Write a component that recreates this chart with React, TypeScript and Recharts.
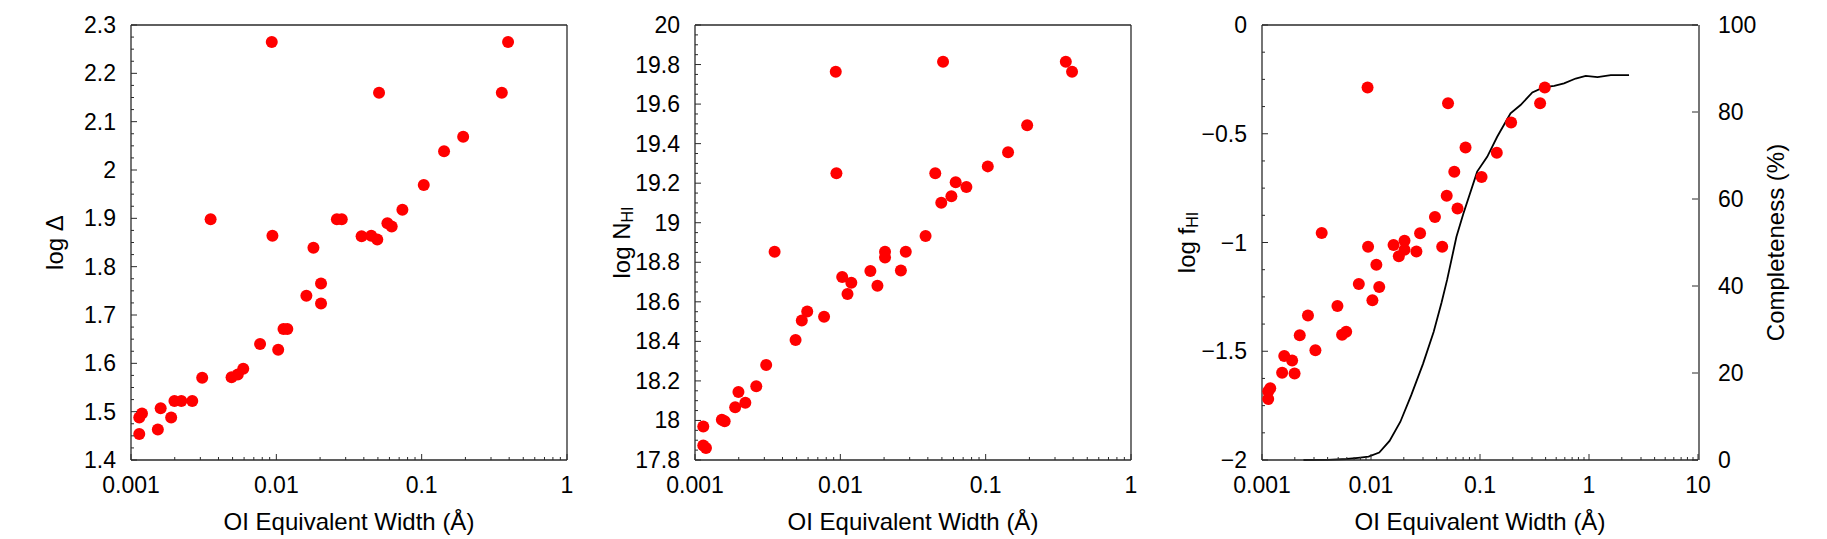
import React from 'react';
import { ComposedChart, Scatter, Line, XAxis, YAxis } from 'recharts';

// ---------- data ----------
const ew = [0.00114, 0.00114, 0.00119, 0.00153, 0.0016, 0.00189, 0.00199, 0.00222, 0.00264, 0.00309, 0.00353, 0.00492, 0.00543, 0.00592, 0.00773, 0.0093, 0.0094, 0.0103, 0.0112, 0.0119, 0.0161, 0.018, 0.0203, 0.0203, 0.0261, 0.0282, 0.0386, 0.045, 0.0495, 0.0509, 0.0581, 0.0622, 0.0737, 0.1034, 0.1426, 0.193, 0.356, 0.393];
const logDelta = [1.488, 1.454, 1.496, 1.463, 1.507, 1.488, 1.522, 1.522, 1.522, 1.57, 1.898, 1.571, 1.577, 1.589, 1.64, 2.265, 1.864, 1.628, 1.671, 1.671, 1.74, 1.839, 1.765, 1.724, 1.898, 1.898, 1.863, 1.864, 1.856, 2.16, 1.89, 1.883, 1.918, 1.969, 2.039, 2.069, 2.16, 2.265];
const logNHI = [17.97, 17.873, 17.861, 18.004, 17.996, 18.067, 18.144, 18.09, 18.173, 18.281, 18.853, 18.407, 18.506, 18.551, 18.525, 19.764, 19.25, 18.725, 18.64, 18.697, 18.756, 18.681, 18.853, 18.824, 18.758, 18.853, 18.933, 19.25, 19.101, 19.814, 19.134, 19.205, 19.181, 19.285, 19.356, 19.493, 19.814, 19.764];
const logFHI = [-1.684, -1.72, -1.67, -1.599, -1.522, -1.542, -1.602, -1.426, -1.336, -1.495, -0.956, -1.292, -1.424, -1.41, -1.191, -0.287, -1.02, -1.265, -1.102, -1.205, -1.011, -1.063, -0.992, -1.033, -1.041, -0.957, -0.883, -1.02, -0.785, -0.36, -0.675, -0.844, -0.563, -0.699, -0.587, -0.448, -0.36, -0.287];

const complEW = [0.0024, 0.004, 0.006, 0.0076, 0.0095, 0.0119, 0.0148, 0.0186, 0.0234, 0.03, 0.0376, 0.0444, 0.0499, 0.0608, 0.0701, 0.0942, 0.1164, 0.1438, 0.1656, 0.1906, 0.2355, 0.302, 0.386, 0.48, 0.59, 0.755, 0.933, 1.197, 1.585, 2.33];
const complPct = [0, 0.05, 0.23, 0.5, 0.8, 1.7, 4.4, 8.8, 14.9, 22.1, 29.5, 36.2, 41.4, 51.3, 56.5, 66.3, 69.7, 74.3, 77.0, 79.7, 81.6, 84.5, 85.7, 86.0, 86.6, 87.7, 88.3, 88.0, 88.5, 88.5];

// ---------- ticks ----------
const xMajorA = [0.001, 0.01, 0.1, 1];
const xMajorC = [0.001, 0.01, 0.1, 1, 10];
const yMajorDelta = [1.4, 1.5, 1.6, 1.7, 1.8, 1.9, 2.0, 2.1, 2.2, 2.3];
const yMajorNHI = [17.8, 18.0, 18.2, 18.4, 18.6, 18.8, 19.0, 19.2, 19.4, 19.6, 19.8, 20.0];
const yMajorFHI = [-2, -1.5, -1, -0.5, 0];
const yMajorCompl = [0, 20, 40, 60, 80, 100];

function linMinor(majors: number[], n: number): number[] {
  const out: number[] = [];
  for (let i = 0; i < majors.length - 1; i++) {
    for (let k = 1; k < n; k++) out.push(majors[i] + ((majors[i + 1] - majors[i]) * k) / n);
  }
  return out;
}
function logMinor(majors: number[]): number[] {
  const out: number[] = [];
  for (let i = 0; i < majors.length - 1; i++) {
    for (let k = 2; k <= 9; k++) out.push(majors[i] * k);
  }
  return out;
}

// ---------- layout ----------
const FONT = '"Liberation Sans", Arial, Helvetica, sans-serif';
const ML = 131, MR = 130, MT = 25, PW = 436, PH = 435, CH = 539;
const MAJOR_LEN = 6, MINOR_LEN = 3;
const TICK_FS = 23, TITLE_FS = 24;
const FRAME = '#2a2a2a';

function fmt(v: number): string {
  const s = String(Math.round(v * 1000) / 1000);
  return s.replace('-', '\u2212');
}

function isIn(v: number, arr: number[]): boolean {
  return arr.some((m) => Math.abs(m - v) < 1e-9 + 1e-6 * Math.abs(m));
}

function makeTick(side: 'bottom' | 'top' | 'left' | 'right', majors: number[], showLabel: boolean) {
  return (props: any) => {
    const { x, y, payload } = props;
    const v = payload.value;
    const major = isIn(v, majors);
    const len = major ? MAJOR_LEN : MINOR_LEN;
    let x2 = x, y2 = y;
    if (side === 'bottom') y2 = y - len;
    if (side === 'top') y2 = y + len;
    if (side === 'left') x2 = x + len;
    if (side === 'right') x2 = x - len;
    let label: React.ReactNode = null;
    if (showLabel && major) {
      if (side === 'bottom')
        label = <text x={x} y={y + 25} textAnchor="middle" dominantBaseline="central" fontSize={TICK_FS} fontFamily={FONT} fill="#000">{fmt(v)}</text>;
      if (side === 'left')
        label = <text x={x - 15} y={y} textAnchor="end" dominantBaseline="central" fontSize={TICK_FS} fontFamily={FONT} fill="#000">{fmt(v)}</text>;
      if (side === 'right')
        label = <text x={x + 20} y={y} textAnchor="start" dominantBaseline="central" fontSize={TICK_FS} fontFamily={FONT} fill="#000">{fmt(v)}</text>;
    }
    return (
      <g>
        <line x1={x} y1={y} x2={x2} y2={y2} stroke={FRAME} strokeWidth={1} />
        {label}
      </g>
    );
  };
}

const xTitle = (props: any) => {
  const vb = props.viewBox;
  return (
    <text x={vb.x + vb.width / 2} y={vb.y + 61} textAnchor="middle" dominantBaseline="central" fontSize={TITLE_FS} fontFamily={FONT} fill="#000">
      OI Equivalent Width (Å)
    </text>
  );
};

function yTitle(main: string, sub: string | null, offset: number, side: 'left' | 'right') {
  return (props: any) => {
    const vb = props.viewBox;
    const cx = side === 'left' ? vb.x + (vb.width || 0) - offset : vb.x + offset;
    const cy = vb.y + vb.height / 2;
    return (
      <text x={cx} y={cy} transform={`rotate(-90 ${cx} ${cy})`} textAnchor="middle" dominantBaseline="central" fontSize={TITLE_FS} fontFamily={FONT} fill="#000">
        <tspan>{main}</tspan>
        {sub ? <tspan fontSize={16} dy={6}>{sub}</tspan> : null}
      </text>
    );
  };
}

const dot = (p: any) => <circle cx={p.cx} cy={p.cy} r={6} fill="#ff0000" />;

type PanelProps = {
  left: number;
  points: { x: number; y: number }[];
  xDomain: [number, number];
  xMajor: number[];
  yDomain: [number, number];
  yMajor: number[];
  yMinorN: number;
  title: (p: any) => React.ReactElement;
  extra?: {
    domain: [number, number];
    major: number[];
    curve: { x: number; c: number }[];
    title: (p: any) => React.ReactElement;
  };
};

function Panel(p: PanelProps) {
  const xTicks = [...p.xMajor, ...logMinor(p.xMajor)].sort((a, b) => a - b);
  const yTicks = [...p.yMajor, ...linMinor(p.yMajor, p.yMinorN)].sort((a, b) => a - b);
  const axisLine = { stroke: FRAME, strokeWidth: 1.3 };
  const nRight = p.extra ? 2 : 1;
  return (
    <div style={{ position: 'absolute', left: p.left - ML, top: 0 }}>
      <ComposedChart width={ML + PW + MR} height={CH} margin={{ top: MT - 1, right: MR - nRight, bottom: CH - MT - PH - 1, left: ML - 1 }}>
        <XAxis xAxisId="b" orientation="bottom" type="number" dataKey="x" scale="log" domain={p.xDomain} ticks={xTicks} interval={0} height={1} tickSize={0} tickMargin={0} tickLine={false} axisLine={axisLine} tick={makeTick('bottom', p.xMajor, true)} label={xTitle} />
        <XAxis xAxisId="t" orientation="top" type="number" dataKey="x" scale="log" domain={p.xDomain} ticks={xTicks} interval={0} height={1} tickSize={0} tickMargin={0} tickLine={false} axisLine={axisLine} tick={makeTick('top', p.xMajor, false)} />
        <YAxis yAxisId="l" orientation="left" type="number" domain={p.yDomain} ticks={yTicks} interval={0} width={1} tickSize={0} tickMargin={0} tickLine={false} axisLine={axisLine} tick={makeTick('left', p.yMajor, true)} label={p.title} />
        <YAxis yAxisId="rm" orientation="right" type="number" domain={p.yDomain} ticks={yTicks} interval={0} width={1} tickSize={0} tickMargin={0} tickLine={false} axisLine={axisLine} tick={makeTick('right', p.yMajor, false)} />
        {p.extra ? (
          <YAxis yAxisId="r2" orientation="right" type="number" domain={p.extra.domain} ticks={p.extra.major} interval={0} width={1} tickSize={0} tickMargin={0} tickLine={false} axisLine={false} tick={makeTick('right', p.extra.major, true)} label={p.extra.title} />
        ) : null}
        {p.extra ? (
          <Line data={p.extra.curve} dataKey="c" xAxisId="b" yAxisId="r2" type="linear" stroke="#000" strokeWidth={1.8} dot={false} activeDot={false} isAnimationActive={false} />
        ) : null}
        <Scatter data={p.points} dataKey="y" xAxisId="b" yAxisId="l" shape={dot} isAnimationActive={false} />
      </ComposedChart>
    </div>
  );
}

export default function App() {
  const ptsDelta = ew.map((x, i) => ({ x, y: logDelta[i] }));
  const ptsNHI = ew.map((x, i) => ({ x, y: logNHI[i] }));
  const ptsFHI = ew.map((x, i) => ({ x, y: logFHI[i] }));
  const curve = complEW.map((x, i) => ({ x, c: complPct[i] }));
  return (
    <div style={{ position: 'absolute', left: 0, top: 0, width: 1827, height: 539, background: '#fff', overflow: 'hidden' }}>
      <Panel left={131} points={ptsDelta} xDomain={[0.001, 1]} xMajor={xMajorA} yDomain={[1.4, 2.3]} yMajor={yMajorDelta} yMinorN={4} title={yTitle('log \u0394', null, 77, 'left')} />
      <Panel left={695} points={ptsNHI} xDomain={[0.001, 1]} xMajor={xMajorA} yDomain={[17.8, 20]} yMajor={yMajorNHI} yMinorN={4} title={yTitle('log N', 'HI', 74, 'left')} />
      <Panel
        left={1262}
        points={ptsFHI}
        xDomain={[0.001, 10]}
        xMajor={xMajorC}
        yDomain={[-2, 0]}
        yMajor={yMajorFHI}
        yMinorN={4}
        title={yTitle('log f', 'HI', 76, 'left')}
        extra={{ domain: [0, 100], major: yMajorCompl, curve, title: yTitle('Completeness (%)', null, 77, 'right') }}
      />
    </div>
  );
}
